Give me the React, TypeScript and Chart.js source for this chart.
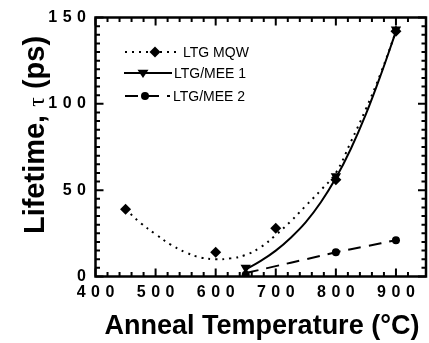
import React, { useEffect, useRef } from 'react';
import { Chart, registerables } from 'chart.js';

Chart.register(...registerables);

// Measured points
const xMqw = [450, 600, 700, 800, 900];
const yMqw = [39, 14, 28, 56, 142];
const xMee1 = [650, 800, 900];
const yMee1 = [5, 58, 143];
const xMee2 = [650, 800, 900];
const yMee2 = [1, 14, 21];

// Fit curves
const xFitMqw = [450, 475, 500, 525, 550, 575, 600, 625, 650, 675, 700, 725, 750, 775, 800, 825, 850, 875, 900];
const yFitMqw = [39, 31, 24.5, 18.5, 14, 11, 10, 10.5, 12.5, 17, 24, 32, 41, 50, 60, 78, 97, 118, 142];
const xFitMee1 = [650, 675, 700, 725, 750, 775, 800, 825, 850, 875, 900];
const yFitMee1 = [4, 9, 15, 22.5, 31.5, 43, 57, 74, 94, 117, 142];
const xFitMee2 = [650, 700, 750, 800, 850, 900];
const yFitMee2 = [2, 6, 10, 14, 17.5, 21];

const xTickLabels = [400, 500, 600, 700, 800, 900];
const yTickLabels = [0, 50, 100, 150];
const seriesNames = ['LTG MQW', 'LTG/MEE 1', 'LTG/MEE 2'];
const xTitle = 'Anneal Temperature (\u00B0C)';
const yTitleParts = ['Lifetime, ', '\u03C4', ' (ps)'];

const pts = (xs: number[], ys: number[]) => xs.map((x, i) => ({ x, y: ys[i] }));

const DOT = [2, 5];
const DASH = [13, 8];
const LS = 5.5;

function markerPath(ctx: CanvasRenderingContext2D, kind: string, x: number, y: number) {
  ctx.beginPath();
  if (kind === 'diamond') {
    const r = 5.5;
    ctx.moveTo(x - r, y); ctx.lineTo(x, y - r); ctx.lineTo(x + r, y); ctx.lineTo(x, y + r); ctx.closePath();
  } else if (kind === 'tri') {
    const r = 5.5;
    ctx.moveTo(x - r, y - r * 0.6); ctx.lineTo(x + r, y - r * 0.6); ctx.lineTo(x, y + r * 0.9); ctx.closePath();
  } else {
    ctx.arc(x, y, 4, 0, Math.PI * 2);
  }
  ctx.fill();
}

const framePlugin = {
  id: 'frameTicks',
  beforeDraw(chart: any) {
    chart.ctx.letterSpacing = LS + 'px';
  },
  beforeDatasetsDraw(chart: any) {
    chart.ctx.letterSpacing = '0px';
  },
  afterDraw(chart: any) {
    const ctx: CanvasRenderingContext2D = chart.ctx;
    const { left, right, top, bottom } = chart.chartArea;
    const xs = chart.scales.x;
    const ys = chart.scales.y;
    ctx.save();
    ctx.letterSpacing = '0px';
    ctx.strokeStyle = '#000';
    ctx.lineWidth = 2;
    ctx.lineCap = 'butt';
    xs.ticks.forEach((t: any) => {
      if (t.value % 20 !== 0) return;
      const px = xs.getPixelForValue(t.value);
      const len = t.value % 100 === 0 ? 8 : 4.5;
      ctx.beginPath();
      ctx.moveTo(px, bottom); ctx.lineTo(px, bottom - len);
      ctx.moveTo(px, top); ctx.lineTo(px, top + len);
      ctx.stroke();
    });
    ys.ticks.forEach((t: any) => {
      if (t.value % 5 !== 0) return;
      const py = ys.getPixelForValue(t.value);
      const len = t.value % 50 === 0 ? 8 : 4.5;
      ctx.beginPath();
      ctx.moveTo(left, py); ctx.lineTo(left + len, py);
      ctx.moveTo(right, py); ctx.lineTo(right - len, py);
      ctx.stroke();
    });
    ctx.lineWidth = 2.5;
    ctx.strokeRect(left, top, right - left, bottom - top);

    // Legend
    const ds = chart.data.datasets;
    const rows = [
      { y: 52, x0: 125, x1: 181, mx: 155, tx: 183, line: ds[0], kind: 'diamond' },
      { y: 73, x0: 124, x1: 172, mx: 143, tx: 174, line: ds[2], kind: 'tri' },
      { y: 96, x0: 125, x1: 170, mx: 145, tx: 173, line: ds[4], kind: 'circle' },
    ];
    rows.forEach((r, i) => {
      ctx.save();
      ctx.strokeStyle = '#000';
      ctx.lineWidth = 2;
      ctx.setLineDash(r.line.borderDash || []);
      ctx.beginPath();
      ctx.moveTo(r.x0, r.y); ctx.lineTo(r.x1, r.y);
      ctx.stroke();
      ctx.restore();
      ctx.fillStyle = '#000';
      markerPath(ctx, r.kind, r.mx, r.y);
      ctx.font = '14px "Liberation Sans", Arial, sans-serif';
      ctx.textBaseline = 'middle';
      ctx.textAlign = 'left';
      ctx.fillText(seriesNames[i], r.tx, r.y + 1);
    });

    // X title
    ctx.font = 'bold 27px "Liberation Sans", Arial, sans-serif';
    ctx.textAlign = 'center';
    ctx.textBaseline = 'middle';
    ctx.fillText(xTitle, 262, 327);

    // Y title (rotated)
    ctx.save();
    ctx.translate(36, 135);
    ctx.rotate(-Math.PI / 2);
    const fBold = 'bold 29px "Liberation Sans", Arial, sans-serif';
    const fTau = '24px "Liberation Serif", "DejaVu Serif", serif';
    const fonts = [fBold, fTau, fBold];
    const widths = yTitleParts.map((s, i) => { ctx.font = fonts[i]; return ctx.measureText(s).width; });
    const total = widths.reduce((a, b) => a + b, 0);
    let cx = -total / 2;
    ctx.textAlign = 'left';
    ctx.textBaseline = 'middle';
    yTitleParts.forEach((s, i) => {
      ctx.font = fonts[i];
      ctx.fillText(s, cx, i === 1 ? 2 : 0);
      cx += widths[i];
    });
    ctx.restore();
    ctx.restore();
  },
};

export default function App() {
  const ref = useRef<HTMLCanvasElement>(null);
  useEffect(() => {
    if (!ref.current) return;
    Chart.defaults.color = '#000';
    const tickFont = { family: '"Liberation Sans", Arial, sans-serif', size: 16, weight: 'bold' };
    const chart = new Chart(ref.current, {
      type: 'line',
      data: {
        datasets: [
          { label: seriesNames[0] + ' fit', data: pts(xFitMqw, yFitMqw), borderColor: '#000', borderWidth: 2, borderDash: DOT, pointRadius: 0, tension: 0.4, fill: false },
          { label: seriesNames[0], data: pts(xMqw, yMqw), showLine: false, pointStyle: 'rectRot', pointRadius: 5.5, backgroundColor: '#000', borderColor: '#000', borderWidth: 0 },
          { label: seriesNames[1] + ' fit', data: pts(xFitMee1, yFitMee1), borderColor: '#000', borderWidth: 2, borderDash: [], pointRadius: 0, tension: 0.4, fill: false },
          { label: seriesNames[1], data: pts(xMee1, yMee1), showLine: false, pointStyle: 'triangle', rotation: 180, pointRadius: 6, backgroundColor: '#000', borderColor: '#000', borderWidth: 0 },
          { label: seriesNames[2] + ' fit', data: pts(xFitMee2, yFitMee2), borderColor: '#000', borderWidth: 2, borderDash: DASH, pointRadius: 0, tension: 0.4, fill: false },
          { label: seriesNames[2], data: pts(xMee2, yMee2), showLine: false, pointStyle: 'circle', pointRadius: 4, backgroundColor: '#000', borderColor: '#000', borderWidth: 0 },
        ],
      },
      options: {
        responsive: false,
        animation: false,
        devicePixelRatio: 1,
        layout: { padding: { left: 0, right: 1, top: 17.5, bottom: 0 } },
        plugins: { legend: { display: false }, tooltip: { enabled: false }, title: { display: false } },
        scales: {
          x: {
            type: 'linear',
            min: 400,
            max: 950,
            grid: { display: false, drawTicks: false },
            border: { display: false },
            afterFit: (s: any) => { s.height = 66.5; },
            ticks: {
              stepSize: 20,
              autoSkip: false,
              maxRotation: 0,
              padding: 6,
              labelOffset: LS / 2,
              color: '#000',
              font: tickFont,
              callback: (v: any) => (xTickLabels.includes(Number(v)) ? String(v) : ''),
            },
          },
          y: {
            min: 0,
            max: 150,
            grid: { display: false, drawTicks: false },
            border: { display: false },
            afterFit: (s: any) => { s.width = 95.5; },
            ticks: {
              stepSize: 5,
              autoSkip: false,
              padding: 4,
              color: '#000',
              font: tickFont,
              callback: (v: any) => (yTickLabels.includes(Number(v)) ? String(v) : ''),
            },
          },
        },
      } as any,
      plugins: [framePlugin],
    });
    return () => chart.destroy();
  }, []);
  return (
    <div style={{ position: 'fixed', left: 0, top: 0, width: 429, height: 343, overflow: 'hidden', background: '#fff' }}>
      <canvas ref={ref} width={432} height={343} style={{ display: 'block', width: 432, height: 343 }} />
    </div>
  );
}
